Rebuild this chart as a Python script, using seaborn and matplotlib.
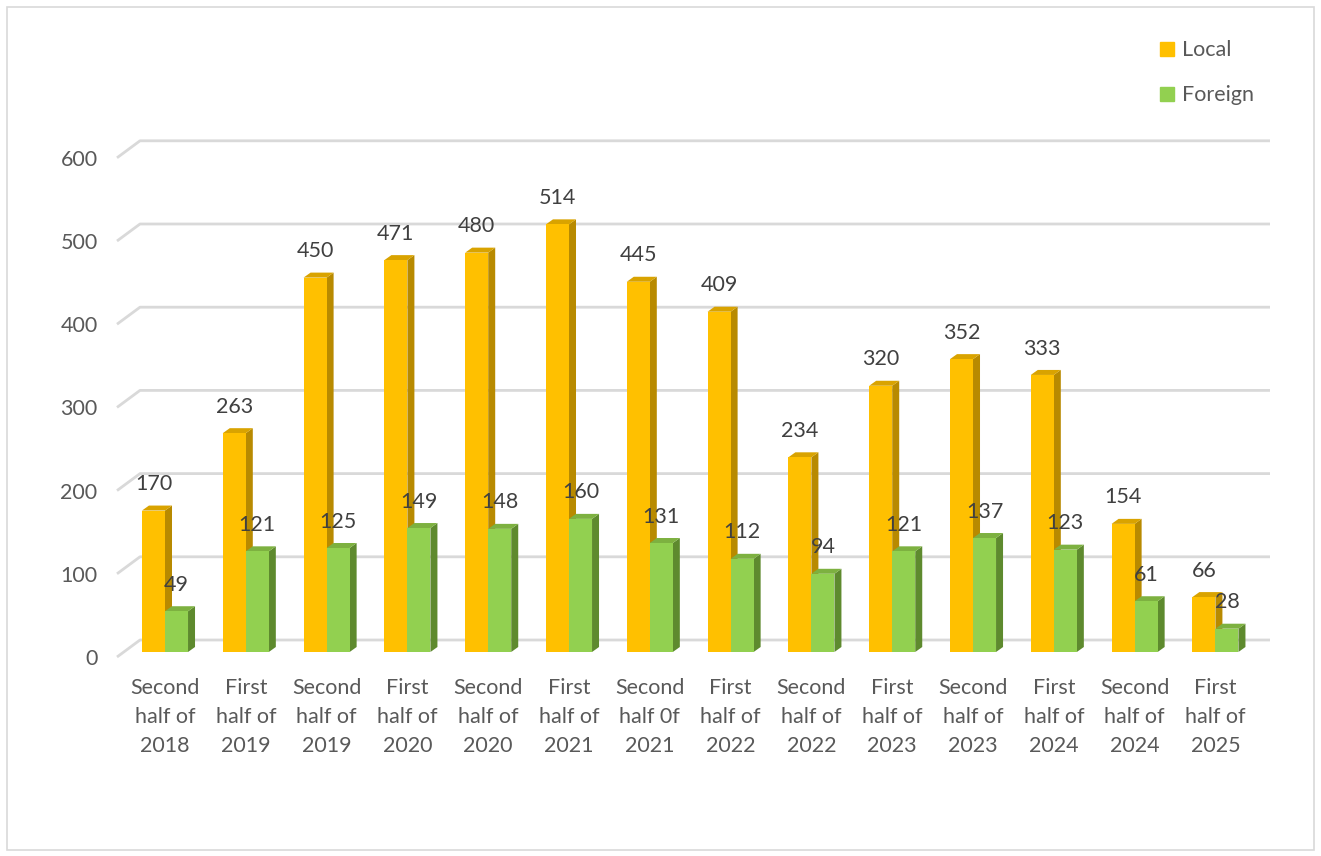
import numpy as np
import pandas as pd
import matplotlib
matplotlib.use("Agg")
import matplotlib.pyplot as plt
from matplotlib.patches import Polygon, Rectangle
from matplotlib.lines import Line2D
from matplotlib.transforms import ScaledTranslation
import seaborn as sns

categories = ["Second\nhalf of\n2018", "First\nhalf of\n2019", "Second\nhalf of\n2019",
              "First\nhalf of\n2020", "Second\nhalf of\n2020", "First\nhalf of\n2021",
              "Second\nhalf 0f\n2021", "First\nhalf of\n2022", "Second\nhalf of\n2022",
              "First\nhalf of\n2023", "Second\nhalf of\n2023", "First\nhalf of\n2024",
              "Second\nhalf of\n2024", "First\nhalf of\n2025"]
local_vals = [170, 263, 450, 471, 480, 514, 445, 409, 234, 320, 352, 333, 154, 66]
foreign_vals = [49, 121, 125, 149, 148, 160, 131, 112, 94, 121, 137, 123, 61, 28]
series = ["Local", "Foreign"]
yticks = [0, 100, 200, 300, 400, 500, 600]

colors = {"Local": "#FFC000", "Foreign": "#92D050"}
side_colors = {"Local": "#B88A00", "Foreign": "#5E8A2E"}
top_colors = {"Local": "#D9A300", "Foreign": "#7DB140"}

df = pd.DataFrame({
    "cat": categories * 2,
    "series": ["Local"] * len(categories) + ["Foreign"] * len(categories),
    "value": local_vals + foreign_vals,
})

sns.set_theme(style="white")
plt.rcParams["font.family"] = ["Lato", "DejaVu Sans"]
FS = 15.5

W, H = 1321, 856
fig = plt.figure(figsize=(W / 100, H / 100), dpi=100)
left_px, right_px, bottom_px, top_px = 117, 1250, 652, 135
ax = fig.add_axes([left_px / W, (H - bottom_px) / H, (right_px - left_px) / W, (bottom_px - top_px) / H])

sns.barplot(data=df, x="cat", y="value", hue="series", hue_order=series,
            palette=colors, width=0.57, ax=ax, legend=False, saturation=1,
            linewidth=0, edgecolor="none")

xmin, xmax = -0.594, 13.428
ymax = (bottom_px - top_px) / 0.832
ax.set_xlim(xmin, xmax)
ax.set_ylim(0, ymax)
px_x = (xmax - xmin) / (right_px - left_px)
px_y = ymax / (bottom_px - top_px)

# gridlines: front stub below bar plane, back plane above
fdy = -5 * px_y
bdx, bdy = 23 * px_x, 12 * px_y
for v in yticks:
    ax.plot([xmin, xmin + bdx, xmax + 20 * px_x], [v + fdy, v + bdy, v + bdy], color="#d9d9d9",
            lw=2, clip_on=False, zorder=0.5, solid_capstyle="butt")

# 3D faces for bars
ddx, ddy = 7 * px_x, 5 * px_y
n = len(categories)
for i, p in enumerate(ax.patches):
    s = series[i // n]
    x, w, h = p.get_x(), p.get_width(), p.get_height()
    z = 2 + x * 0.1
    p.set_zorder(z)
    side = Polygon([(x + w, 0), (x + w + ddx, ddy), (x + w + ddx, h + ddy), (x + w, h)],
                   closed=True, facecolor=side_colors[s], edgecolor="none", clip_on=False, zorder=z - 0.01)
    top = Polygon([(x, h), (x + ddx, h + ddy), (x + w + ddx, h + ddy), (x + w, h)],
                  closed=True, facecolor=top_colors[s], edgecolor="none", clip_on=False, zorder=z - 0.01)
    ax.add_patch(side)
    ax.add_patch(top)
    p.set_clip_on(False)
    ax.annotate(f"{int(round(h))}", (x + w / 2, h), xytext=(0, 19), textcoords="offset points",
                ha="center", va="center", fontsize=FS, color="#404040", zorder=10,
                annotation_clip=False)

for sp in ax.spines.values():
    sp.set_visible(False)
ax.set_yticks(yticks)
ax.set_yticklabels([str(v) for v in yticks])
ax.tick_params(axis="y", length=0, pad=14, labelsize=FS, labelcolor="#595959")
ax.tick_params(axis="x", length=0, pad=19, labelsize=FS, labelcolor="#595959")
shift = ScaledTranslation(0, -5 / 100, fig.dpi_scale_trans)
for t in ax.yaxis.get_major_ticks():
    t.label1.set_transform(t.label1.get_transform() + shift)
for lab in ax.get_xticklabels():
    lab.set_linespacing(1.55)
    lab.set_verticalalignment("top")
ax.set_xlabel("")
ax.set_ylabel("")
ax.grid(False)
ax.set_facecolor("none")

handles = [Line2D([], [], marker="s", linestyle="none", markersize=10,
                  markerfacecolor=colors[s], markeredgecolor=colors[s]) for s in series]
fig.legend(handles, series, loc="upper left", bbox_to_anchor=(1135 / W, (H - 21) / H),
           frameon=False, fontsize=FS, labelcolor="#595959", labelspacing=1.15,
           handletextpad=0.1, handlelength=1.2)

fig.patches.append(Rectangle((7 / W, 6 / H), (W - 14) / W, (H - 13) / H, transform=fig.transFigure,
                             fill=False, edgecolor="#d9d9d9", lw=1.2))

fig.savefig("out.png", dpi=100, facecolor="white")
